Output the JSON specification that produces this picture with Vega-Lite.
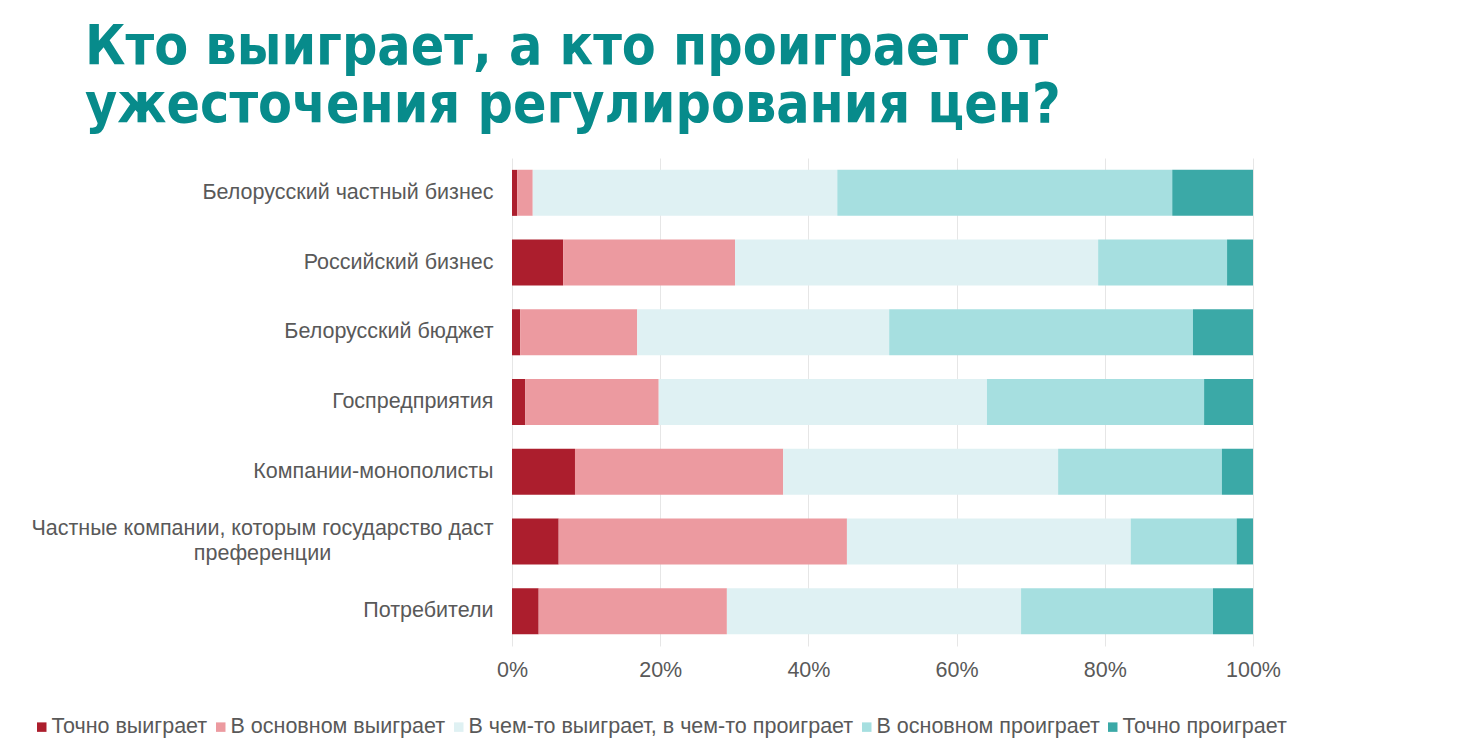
{
  "$schema": "https://vega.github.io/schema/vega-lite/v6.json",
  "autosize": {"type": "none"},
  "width": 741,
  "height": 488,
  "padding": {"left": 512, "top": 158, "right": 208, "bottom": 94},
  "background": "white",
  "config": {
    "view": {"stroke": null},
    "font": "Liberation Sans"
  },
  "title": {
    "text": ["Кто выиграет, а кто проиграет от", "ужесточения регулирования цен?"],
    "anchor": "start",
    "frame": "group",
    "dx": -427,
    "font": "DejaVu Sans Condensed, Liberation Sans",
    "fontSize": 55,
    "fontWeight": "bold",
    "color": "#078B8B",
    "lineHeight": 58,
    "offset": 24
  },
  "data": {
    "values": [
      {"cat": "Белорусский частный бизнес", "ans": "Точно выиграет", "n": 1, "v": 0.7},
      {"cat": "Белорусский частный бизнес", "ans": "В основном выиграет", "n": 2, "v": 2.1},
      {"cat": "Белорусский частный бизнес", "ans": "В чем-то выиграет, в чем-то проиграет", "n": 3, "v": 41.1},
      {"cat": "Белорусский частный бизнес", "ans": "В основном проиграет", "n": 4, "v": 45.2},
      {"cat": "Белорусский частный бизнес", "ans": "Точно проиграет", "n": 5, "v": 10.9},
      {"cat": "Российский бизнес", "ans": "Точно выиграет", "n": 1, "v": 6.9},
      {"cat": "Российский бизнес", "ans": "В основном выиграет", "n": 2, "v": 23.2},
      {"cat": "Российский бизнес", "ans": "В чем-то выиграет, в чем-то проиграет", "n": 3, "v": 49.0},
      {"cat": "Российский бизнес", "ans": "В основном проиграет", "n": 4, "v": 17.4},
      {"cat": "Российский бизнес", "ans": "Точно проиграет", "n": 5, "v": 3.5},
      {"cat": "Белорусский бюджет", "ans": "Точно выиграет", "n": 1, "v": 1.1},
      {"cat": "Белорусский бюджет", "ans": "В основном выиграет", "n": 2, "v": 15.8},
      {"cat": "Белорусский бюджет", "ans": "В чем-то выиграет, в чем-то проиграет", "n": 3, "v": 34.0},
      {"cat": "Белорусский бюджет", "ans": "В основном проиграет", "n": 4, "v": 41.0},
      {"cat": "Белорусский бюджет", "ans": "Точно проиграет", "n": 5, "v": 8.1},
      {"cat": "Госпредприятия", "ans": "Точно выиграет", "n": 1, "v": 1.8},
      {"cat": "Госпредприятия", "ans": "В основном выиграет", "n": 2, "v": 18.0},
      {"cat": "Госпредприятия", "ans": "В чем-то выиграет, в чем-то проиграет", "n": 3, "v": 44.3},
      {"cat": "Госпредприятия", "ans": "В основном проиграет", "n": 4, "v": 29.3},
      {"cat": "Госпредприятия", "ans": "Точно проиграет", "n": 5, "v": 6.6},
      {"cat": "Компании-монополисты", "ans": "Точно выиграет", "n": 1, "v": 8.5},
      {"cat": "Компании-монополисты", "ans": "В основном выиграет", "n": 2, "v": 28.1},
      {"cat": "Компании-монополисты", "ans": "В чем-то выиграет, в чем-то проиграет", "n": 3, "v": 37.1},
      {"cat": "Компании-монополисты", "ans": "В основном проиграет", "n": 4, "v": 22.1},
      {"cat": "Компании-монополисты", "ans": "Точно проиграет", "n": 5, "v": 4.2},
      {"cat": "Частные компании, которым государство даст преференции", "ans": "Точно выиграет", "n": 1, "v": 6.3},
      {"cat": "Частные компании, которым государство даст преференции", "ans": "В основном выиграет", "n": 2, "v": 38.9},
      {"cat": "Частные компании, которым государство даст преференции", "ans": "В чем-то выиграет, в чем-то проиграет", "n": 3, "v": 38.3},
      {"cat": "Частные компании, которым государство даст преференции", "ans": "В основном проиграет", "n": 4, "v": 14.3},
      {"cat": "Частные компании, которым государство даст преференции", "ans": "Точно проиграет", "n": 5, "v": 2.2},
      {"cat": "Потребители", "ans": "Точно выиграет", "n": 1, "v": 3.6},
      {"cat": "Потребители", "ans": "В основном выиграет", "n": 2, "v": 25.4},
      {"cat": "Потребители", "ans": "В чем-то выиграет, в чем-то проиграет", "n": 3, "v": 39.7},
      {"cat": "Потребители", "ans": "В основном проиграет", "n": 4, "v": 25.9},
      {"cat": "Потребители", "ans": "Точно проиграет", "n": 5, "v": 5.4}
    ]
  },
  "mark": {"type": "bar"},
  "encoding": {
    "y": {
      "field": "cat",
      "type": "nominal",
      "sort": null,
      "scale": {"paddingInner": 0.34, "paddingOuter": 0.17},
      "axis": {
        "title": null,
        "ticks": false,
        "domain": false,
        "labelFontSize": 21.5,
        "labelColor": "#595959",
        "labelLimit": 600,
        "labelLineHeight": 25,
        "labelPadding": {"condition": {"test": "length(datum.label) > 40", "value": 250}, "value": 19},
        "labelAlign": {"condition": {"test": "length(datum.label) > 40", "value": "center"}, "value": "right"},
        "labelOffset": {"condition": {"test": "length(datum.label) > 40", "value": -12.5}, "value": 0},
        "labelExpr": "datum.label == 'Частные компании, которым государство даст преференции' ? ['Частные компании, которым государство даст', 'преференции'] : datum.label"
      }
    },
    "x": {
      "field": "v",
      "type": "quantitative",
      "stack": "normalize",
      "scale": {"domain": [0, 1]},
      "axis": {
        "title": null,
        "format": ".0%",
        "values": [0, 0.2, 0.4, 0.6, 0.8, 1],
        "ticks": false,
        "domain": false,
        "grid": true,
        "gridColor": "#E6E6E6",
        "gridWidth": 1,
        "labelFontSize": 21.5,
        "labelColor": "#595959",
        "labelPadding": 13,
        "labelFlush": false
      }
    },
    "color": {
      "field": "ans",
      "type": "nominal",
      "sort": ["Точно выиграет", "В основном выиграет", "В чем-то выиграет, в чем-то проиграет", "В основном проиграет", "Точно проиграет"],
      "scale": {
        "domain": ["Точно выиграет", "В основном выиграет", "В чем-то выиграет, в чем-то проиграет", "В основном проиграет", "Точно проиграет"],
        "range": ["#AC1E2D", "#EC9AA0", "#DFF1F3", "#A6DFE0", "#3BA9A7"]
      },
      "legend": {
        "title": null,
        "orient": "none",
        "direction": "horizontal",
        "legendX": -481,
        "legendY": 558,
        "symbolType": "square",
        "symbolSize": 90,
        "symbolStrokeWidth": 0,
        "labelFontSize": 21.5,
        "labelColor": "#595959",
        "labelOffset": -1,
        "columnPadding": 2,
        "labelLimit": 500
      }
    },
    "order": {"field": "n", "type": "quantitative"}
  }
}
